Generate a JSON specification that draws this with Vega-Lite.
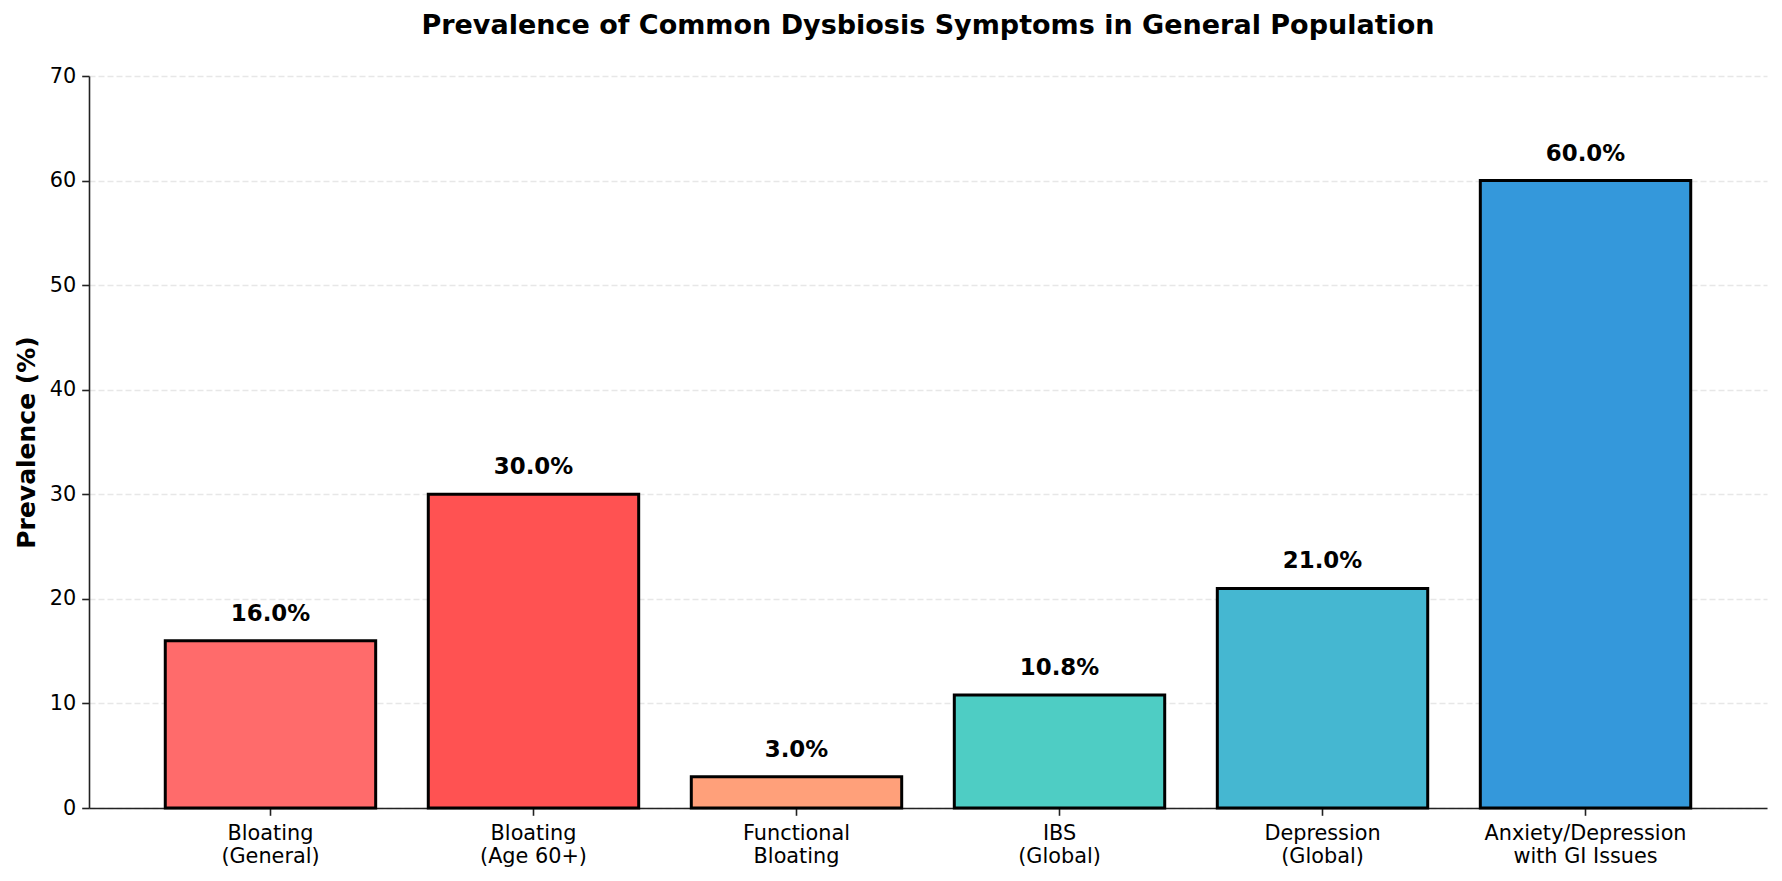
{
  "$schema": "https://vega.github.io/schema/vega-lite/v6.json",
  "autosize": "none",
  "width": 1678,
  "height": 732,
  "padding": {"left": 89, "top": 76, "right": 15, "bottom": 73},
  "background": "white",
  "title": {
    "text": "Prevalence of Common Dysbiosis Symptoms in General Population",
    "font": "DejaVu Sans",
    "fontSize": 27,
    "fontWeight": "bold",
    "color": "black",
    "anchor": "middle",
    "offset": 25
  },
  "data": {
    "values": [
      {"symptom": "Bloating|(General)", "prevalence": 16.0, "label": "16.0%", "color": "#FF6B6B"},
      {"symptom": "Bloating|(Age 60+)", "prevalence": 30.0, "label": "30.0%", "color": "#FF5252"},
      {"symptom": "Functional|Bloating", "prevalence": 3.0, "label": "3.0%", "color": "#FFA07A"},
      {"symptom": "IBS|(Global)", "prevalence": 10.8, "label": "10.8%", "color": "#4ECDC4"},
      {"symptom": "Depression|(Global)", "prevalence": 21.0, "label": "21.0%", "color": "#45B7D1"},
      {"symptom": "Anxiety/Depression|with GI Issues", "prevalence": 60.0, "label": "60.0%", "color": "#3498DB"}
    ]
  },
  "encoding": {
    "x": {
      "field": "symptom",
      "type": "nominal",
      "sort": null,
      "scale": {"paddingInner": 0.2, "paddingOuter": 0.29},
      "axis": {
        "title": null,
        "labelAngle": 0,
        "labelExpr": "split(datum.value, '|')",
        "labelFont": "DejaVu Sans",
        "labelFontSize": 20.8,
        "labelColor": "black",
        "labelLineHeight": 23.5,
        "labelPadding": 8,
        "labelBaseline": "top",
        "labelLimit": 0,
        "tickSize": 7.3,
        "tickWidth": 1.6,
        "tickColor": "#222222",
        "domainColor": "#222222",
        "domainWidth": 1.6,
        "grid": false
      }
    },
    "y": {
      "field": "prevalence",
      "type": "quantitative",
      "scale": {"domain": [0, 70], "nice": false, "zero": true},
      "axis": {
        "title": "Prevalence (%)",
        "titleFont": "DejaVu Sans",
        "titleFontSize": 25,
        "titleFontWeight": "bold",
        "titleColor": "black",
        "titlePadding": 10,
        "values": [0, 10, 20, 30, 40, 50, 60, 70],
        "labelFont": "DejaVu Sans",
        "labelFontSize": 20.8,
        "labelColor": "black",
        "labelPadding": 6,
        "tickSize": 7.3,
        "tickWidth": 1.6,
        "tickColor": "#222222",
        "domainColor": "#222222",
        "domainWidth": 1.6,
        "grid": true,
        "gridColor": "#b0b0b0",
        "gridOpacity": 0.3,
        "gridDash": [6, 3],
        "gridWidth": 1.6
      }
    }
  },
  "layer": [
    {
      "mark": {"type": "bar", "stroke": "black", "strokeWidth": 3},
      "encoding": {
        "color": {"field": "color", "type": "nominal", "scale": null}
      }
    },
    {
      "mark": {
        "type": "text",
        "font": "DejaVu Sans",
        "fontSize": 22.9,
        "fontWeight": "bold",
        "color": "black",
        "baseline": "alphabetic",
        "align": "center",
        "dy": -20
      },
      "encoding": {
        "text": {"field": "label"}
      }
    }
  ],
  "config": {
    "view": {"stroke": null}
  }
}
